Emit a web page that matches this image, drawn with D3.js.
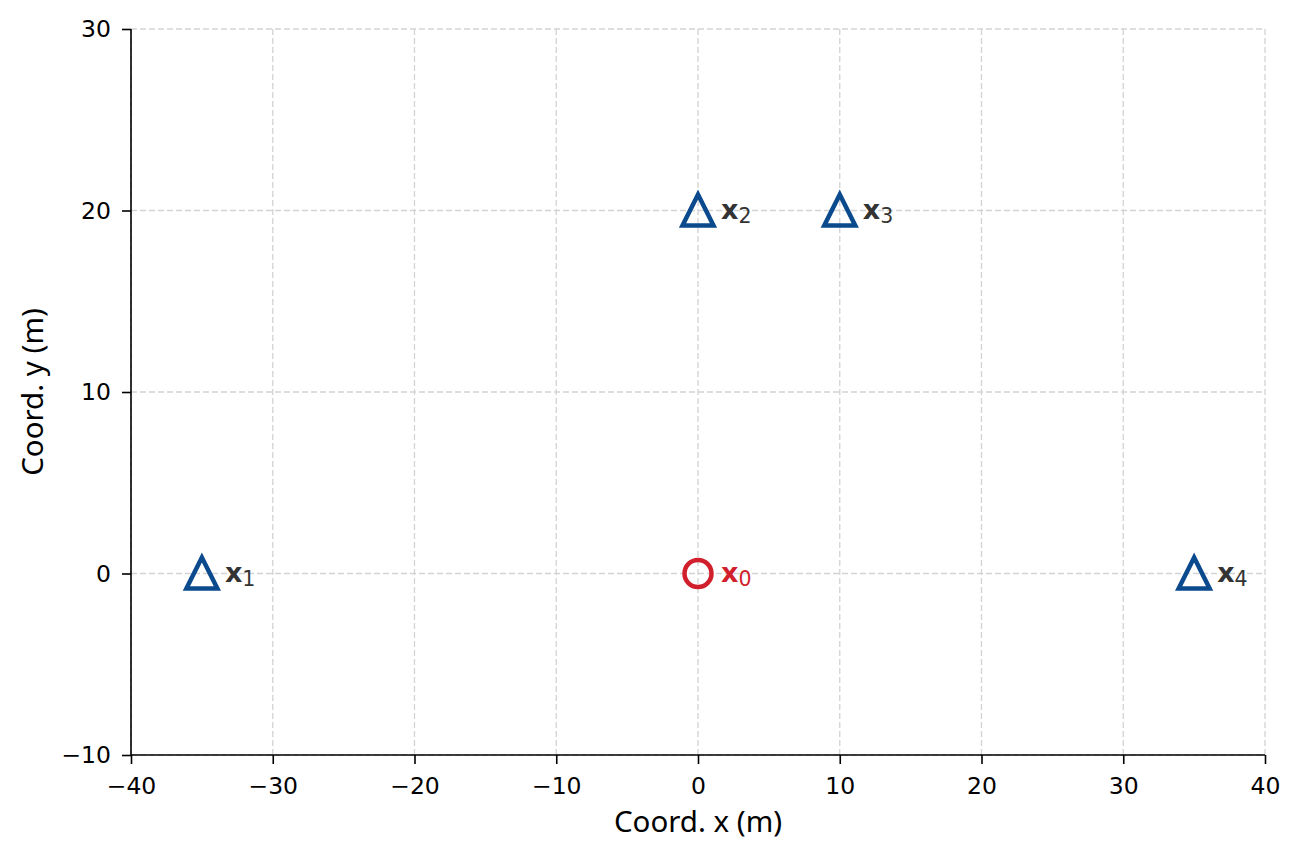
<!DOCTYPE html>
<html>
<head>
<meta charset="utf-8">
<script src="https://cdn.jsdelivr.net/npm/d3@7.9.0/dist/d3.min.js"></script>
<style>
  body { margin: 0; background: #fff; }
  svg { display: block; }
  .tick text { font-family: "DejaVu Sans", sans-serif; font-size: 23.5px; fill: #000; }
  .axis-label { font-family: "Noto Sans", sans-serif; font-size: 29.5px; fill: #000; }
  .pt-label { font-family: "DejaVu Sans", sans-serif; }
</style>
</head>
<body>
<svg id="chart" width="1300" height="858"></svg>
<script>
// anchors (triangles) and the target point
const anchorX = [-35, 0, 10, 35];
const anchorY = [0, 20, 20, 0];
const anchorNames = ['1', '2', '3', '4'];
const targetX = [0];
const targetY = [0];
const targetNames = ['0'];

const xTicks = [-40, -30, -20, -10, 0, 10, 20, 30, 40];
const yTicks = [-10, 0, 10, 20, 30];

const margin = { left: 131, right: 35, top: 29, bottom: 103 };
const width = 1300, height = 858;

const svg = d3.select('#chart');

let x = d3.scaleLinear().domain([-40, 40]).range([margin.left, width - margin.right]);
let y = d3.scaleLinear().domain([-10, 30]).range([height - margin.bottom, margin.top]);

// grid
let grid = svg.append('g');
xTicks.forEach(t => {
    grid.append('line')
        .attr('x1', x(t)).attr('x2', x(t))
        .attr('y1', y(-10)).attr('y2', y(30))
        .attr('stroke', '#d3d3d3').attr('stroke-width', 1.3)
        .attr('stroke-dasharray', '6,3');
});
yTicks.forEach(t => {
    grid.append('line')
        .attr('x1', x(-40)).attr('x2', x(40))
        .attr('y1', y(t)).attr('y2', y(t))
        .attr('stroke', '#d3d3d3').attr('stroke-width', 1.3)
        .attr('stroke-dasharray', '6,3');
});

// axes
const fmt = d => d < 0 ? '\u2212' + Math.abs(d) : d;
let xAxis = d3.axisBottom(x).tickValues(xTicks).tickSize(9).tickPadding(13).tickFormat(fmt);
let yAxis = d3.axisLeft(y).tickValues(yTicks).tickSize(9).tickPadding(11).tickFormat(fmt);

svg.append('g').attr('transform', `translate(0,${y(-10)})`).call(xAxis)
   .call(g => g.selectAll('line, path').attr('stroke', '#000').attr('stroke-width', 1.6))
   .call(g => g.select('.domain').attr('d', `M${x(-40)},0H${x(40)}`));
svg.append('g').attr('transform', `translate(${x(-40)},0)`).call(yAxis)
   .call(g => g.selectAll('line, path').attr('stroke', '#000').attr('stroke-width', 1.6))
   .call(g => g.select('.domain').attr('d', `M0,${y(-10)}V${y(30)}`));

svg.append('text').attr('class', 'axis-label')
   .attr('x', (x(-40) + x(40)) / 2).attr('y', 832)
   .attr('text-anchor', 'middle').text('Coord. x (m)');
svg.append('text').attr('class', 'axis-label')
   .attr('transform', `translate(43,${(y(-10) + y(30)) / 2}) rotate(-90)`)
   .attr('text-anchor', 'middle').text('Coord. y (m)');

// markers
const tri = 'M0,-16L15.5,15L-15.5,15Z';
anchorX.forEach((ax, i) => {
    let px = x(ax), py = y(anchorY[i]);
    svg.append('path')
       .attr('d', tri)
       .attr('transform', `translate(${px},${py})`)
       .attr('fill', 'none').attr('stroke', '#0b4a8c').attr('stroke-width', 4.5)
       .attr('stroke-linejoin', 'miter');
    addLabel(px + 23, py + 8, anchorNames[i], '#333333');
});

targetX.forEach((tx, i) => {
    let px = x(tx), py = y(targetY[i]);
    svg.append('circle')
       .attr('cx', px).attr('cy', py).attr('r', 13.5)
       .attr('fill', 'none').attr('stroke', '#d11f2c').attr('stroke-width', 4.5);
    addLabel(px + 23, py + 8, targetNames[i], '#d11f2c');
});

function addLabel(lx, ly, sub, color) {
    let t = svg.append('text').attr('class', 'pt-label')
        .attr('x', lx).attr('y', ly).attr('fill', color);
    t.append('tspan').attr('font-weight', 'bold').attr('font-size', 27).text('x');
    t.append('tspan').attr('font-size', 20.5).attr('dy', 4).text(sub);
}
</script>
</body>
</html>
